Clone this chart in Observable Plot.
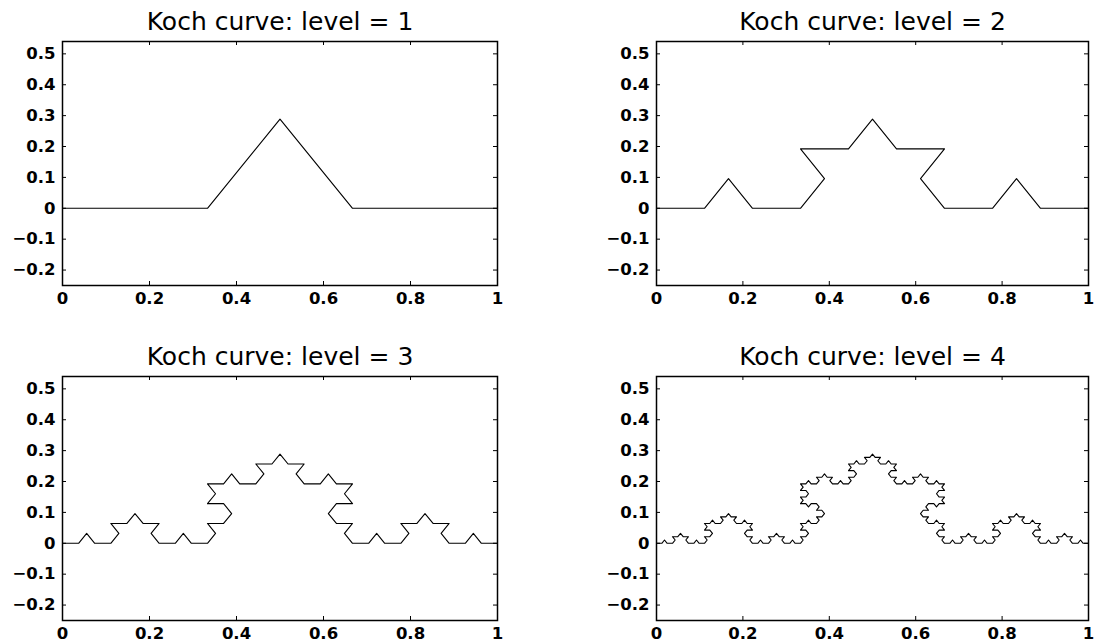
<!DOCTYPE html>
<html>
<head>
<meta charset="utf-8">
<script src="https://cdn.jsdelivr.net/npm/d3@7"></script>
<script src="https://cdn.jsdelivr.net/npm/@observablehq/plot@0.6"></script>
<style>
  html, body { margin: 0; padding: 0; background: #fff; }
  #wrap { position: relative; width: 1096px; height: 643px; overflow: hidden; }
  .panel { position: absolute; }
</style>
</head>
<body>
<div id="wrap"></div>
<script>
// Levels shown
const levels = [1, 2, 3, 4];
// Generator motif of the Koch curve (level-1 vertices)
const motifX = [0, 0.3333, 0.5, 0.6667, 1];
const motifY = [0, 0, 0.2887, 0, 0];
// Tick values / labels
const xTicks = [0, 0.2, 0.4, 0.6, 0.8, 1];
const xLabels = ["0", "0.2", "0.4", "0.6", "0.8", "1"];
const yTicks = [-0.2, -0.1, 0, 0.1, 0.2, 0.3, 0.4, 0.5];
const yLabels = ["\u22120.2", "\u22120.1", "0", "0.1", "0.2", "0.3", "0.4", "0.5"];
const titles = ["Koch curve: level = 1", "Koch curve: level = 2", "Koch curve: level = 3", "Koch curve: level = 4"];

// Substitute each segment by the motif (Koch construction)
function refine(pts) {
  const out = [pts[0]];
  for (let i = 0; i < pts.length - 1; i++) {
    const [x0, y0] = pts[i], [x1, y1] = pts[i + 1];
    const dx = x1 - x0, dy = y1 - y0;
    for (let k = 1; k < motifX.length; k++) {
      out.push([x0 + dx * motifX[k] - dy * motifY[k], y0 + dy * motifX[k] + dx * motifY[k]]);
    }
  }
  return out;
}
function koch(level) {
  let pts = [[0, 0], [1, 0]];
  for (let i = 0; i < level; i++) pts = refine(pts);
  return pts;
}

const layout = [
  {left: 0,   top: 0,   width: 548, height: 320, ml: 62,  mr: 51, mt: 41, mb: 35},
  {left: 548, top: 0,   width: 548, height: 320, ml: 108, mr: 8,  mt: 41, mb: 35},
  {left: 0,   top: 320, width: 548, height: 323, ml: 62,  mr: 51, mt: 56, mb: 23},
  {left: 548, top: 320, width: 548, height: 323, ml: 108, mr: 8,  mt: 56, mb: 23}
];

const wrap = document.getElementById("wrap");
levels.forEach((lev, i) => {
  const L = layout[i];
  const innerW = L.width - L.ml - L.mr;
  const innerH = L.height - L.mt - L.mb;
  const pts = koch(lev);
  const chart = Plot.plot({
    width: L.width, height: L.height,
    marginLeft: L.ml, marginRight: L.mr, marginTop: L.mt, marginBottom: L.mb,
    style: {fontFamily: "'DejaVu Sans', sans-serif", background: "white", color: "black", overflow: "visible"},
    x: {domain: [0, 1]},
    y: {domain: [-0.25, 0.54]},
    marks: [
      Plot.line(pts, {x: d => d[0], y: d => d[1], stroke: "black", strokeWidth: 1.1}),
      Plot.tickX(xTicks, {x: d => d, insetTop: innerH - 4, stroke: "black"}),
      Plot.tickX(xTicks, {x: d => d, insetBottom: innerH - 4, stroke: "black"}),
      Plot.tickY(yTicks, {y: d => d, insetRight: innerW - 4, stroke: "black"}),
      Plot.tickY(yTicks, {y: d => d, insetLeft: innerW - 4, stroke: "black"}),
      Plot.frame({stroke: "black", strokeWidth: 1.5}),
      Plot.axisX(xTicks, {tickSize: 0, tickPadding: 7, fontSize: 16.5, fontWeight: "bold", label: null,
        tickFormat: d => xLabels[xTicks.indexOf(d)]}),
      Plot.axisY(yTicks, {tickSize: 0, tickPadding: 7, fontSize: 16.5, fontWeight: "bold", label: null,
        tickFormat: d => yLabels[yTicks.indexOf(d)]}),
      Plot.text([titles[i]], {frameAnchor: "top", dy: -29, fontSize: 25, fill: "black"})
    ]
  });
  const div = document.createElement("div");
  div.className = "panel";
  div.style.left = L.left + "px";
  div.style.top = L.top + "px";
  div.appendChild(chart);
  wrap.appendChild(div);
});
</script>
</body>
</html>
